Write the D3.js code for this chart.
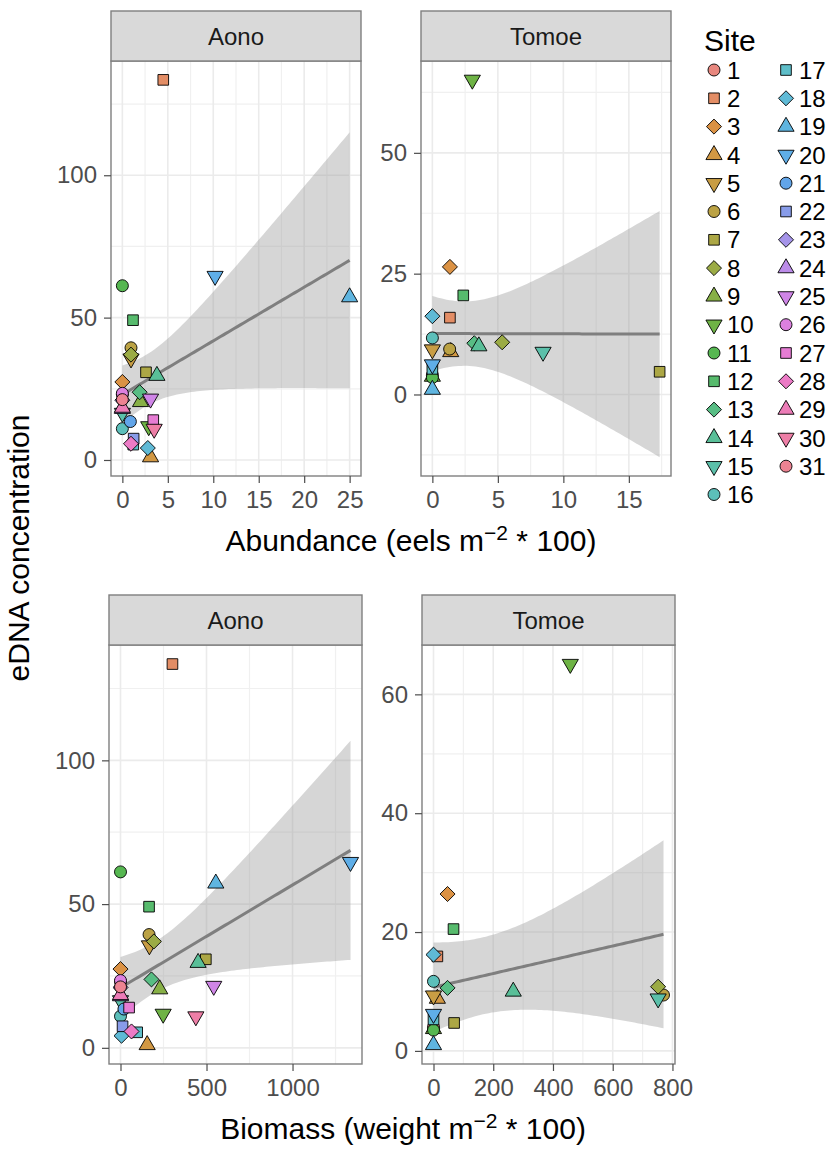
<!DOCTYPE html>
<html>
<head>
<meta charset="utf-8">
<script src="https://cdn.jsdelivr.net/npm/d3@7"></script>
<style>
body { margin: 0; background: #fff; }
svg { font-family: "Liberation Sans", Arial, Helvetica, sans-serif; }
.axis .domain { display: none; }
.axis .tick line { stroke: #4d4d4d; stroke-width: 1.2; }
.axis .tick text { fill: #4d4d4d; font-size: 24px; }
</style>
</head>
<body>
<svg id="chart" width="835" height="1153"></svg>
<script>
// ---- data (a few sites sit hidden under others) ----
const sites = [1, 2, 3, 4, 5, 6, 7, 8, 9, 10, 11, 12, 13, 14, 15, 16,
    17, 18, 19, 20, 21, 22, 23, 24, 25, 26, 27, 28, 29, 30, 31];

const aonoSite      = [1, 2, 3, 4, 5, 6, 7, 8, 9, 10, 11, 12, 13, 14, 15, 16, 17, 18, 19, 20, 21, 22, 23, 24, 25, 26, 27, 28, 29, 30, 31];
const aonoAbundance = [0, 4.5, 0, 3.1, 0.95, 0.95, 2.6, 0.95, 2.0, 2.9, 0, 1.17, 1.9, 3.8, 0, 0, 1.2, 2.8, 25, 10.2, 0.88, 1.24, 0, 0, 3.1, 0, 3.4, 0.95, 0, 3.5, 0];
const aonoBiomass   = [0, 302, 0, 155, 168, 166, 496, 194, 228, 248, 0, 166, 180, 451, 0, 0, 97, 6, 554, 1337, 20, 12, 0, 0, 542, 0, 50, 64, 0, 438, 0];
const aonoEdna      = [23.0, 133.5, 27.4, 1.0, 35.6, 39.4, 30.8, 37.0, 20.4, 11.8, 61.2, 49.1, 23.8, 29.6, 16.5, 11.0, 5.4, 4.2, 57.2, 64.6, 13.5, 7.5, 21.0, 18.0, 21.5, 23.4, 14.0, 5.7, 18.4, 10.9, 21.2];

const tomoeSite      = [1, 2, 3, 4, 5, 6, 7, 8, 9, 10, 11, 12, 13, 14, 15, 16, 17, 18, 19, 20];
const tomoeAbundance = [0, 1.34, 1.34, 1.4, 0, 1.32, 17.35, 5.33, 0, 3.05, 0, 2.36, 3.2, 3.55, 8.45, 0, 0, 0, 0, 0];
const tomoeBiomass   = [0, 13, 47, 13, 0, 770, 69, 752, 0, 458, 0, 67, 47, 267, 752, 0, 0, 0, 0, 0];
const tomoeEdna      = [4.0, 15.9, 26.4, 8.8, 9.3, 9.4, 4.7, 10.8, 3.7, 65.1, 3.5, 20.5, 10.6, 10.0, 8.8, 11.7, 5.3, 16.2, 1.0, 6.2];

// tick labels
const abundanceTicksAono = [0, 5, 10, 15, 20, 25];
const abundanceTicksTomoe = [0, 5, 10, 15];
const biomassTicksAono = [0, 500, 1000];
const biomassTicksTomoe = [0, 200, 400, 600, 800];
const ednaTicksAono = [0, 50, 100];
const ednaTicksTomoeAbundance = [0, 25, 50];
const ednaTicksTomoeBiomass = [0, 20, 40, 60];

// ---- layout ----
const PANELS = [
    {river: "Aono", xs: aonoAbundance, ys: aonoEdna, ids: aonoSite,
        left: 111, right: 361, stripTop: 11, top: 61, bottom: 476,
        xTicks: abundanceTicksAono, yTicks: ednaTicksAono},
    {river: "Tomoe", xs: tomoeAbundance, ys: tomoeEdna, ids: tomoeSite,
        left: 421, right: 671, stripTop: 11, top: 61, bottom: 476,
        xTicks: abundanceTicksTomoe, yTicks: ednaTicksTomoeAbundance},
    {river: "Aono", xs: aonoBiomass, ys: aonoEdna, ids: aonoSite,
        left: 109, right: 362, stripTop: 595, top: 645, bottom: 1064,
        xTicks: biomassTicksAono, yTicks: ednaTicksAono},
    {river: "Tomoe", xs: tomoeBiomass, ys: tomoeEdna, ids: tomoeSite,
        left: 422, right: 675, stripTop: 595, top: 645, bottom: 1064,
        xTicks: biomassTicksTomoe, yTicks: ednaTicksTomoeBiomass}
];

const BORDER = "#7f7f7f";
const PT_R = 6;

// ggplot hue palette (polar LUV, clipped to sRGB)
function hclColor(h, c, l){
    let hr = h * Math.PI / 180,
        U = c * Math.cos(hr),
        V = c * Math.sin(hr);
    let Y = l > 8 ? 100 * Math.pow((l + 16) / 116, 3) : 100 * l / 903.3;
    let u = U / (13 * l) + 0.1978398,
        v = V / (13 * l) + 0.4683363;
    let X = 9 * Y * u / (4 * v),
        Z = -X / 3 - 5 * Y + 3 * Y / v;
    X /= 100; Y /= 100; Z /= 100;
    let lin = [
        3.240479 * X - 1.537150 * Y - 0.498535 * Z,
        -0.969256 * X + 1.875992 * Y + 0.041556 * Z,
        0.055648 * X - 0.204043 * Y + 1.057311 * Z
    ];
    let rgb = lin.map(t => {
        let g = t <= 0.0031308 ? 12.92 * t : 1.055 * Math.pow(t, 1 / 2.4) - 0.055;
        return Math.round(Math.max(0, Math.min(1, g)) * 255);
    });
    return d3.rgb(rgb[0], rgb[1], rgb[2]);
}

// the reference is a bit washed out compared to the stock palette:
// drop some chroma in Lab so the lightness stays put
function muted(c){
    let h = d3.hcl(c);
    h.c *= 0.74;
    h.l += 1.5;
    return d3.rgb(h).clamp().formatHex();
}

const colour = d3.scaleOrdinal()
    .domain(sites)
    .range(sites.map((s, i) => muted(hclColor(15 + 360 * i / sites.length, 100, 65))));

// shapes 21..25 (circle, square, diamond, up, down) with R's proportions
function shapePath(site, R){
    let k = (site - 1) % 5;
    if(k === 0){
        return `M${R},0A${R},${R} 0 1,1 ${-R},0A${R},${R} 0 1,1 ${R},0Z`;
    }
    if(k === 1){
        let s = 0.8862 * R;
        return `M${-s},${-s}H${s}V${s}H${-s}Z`;
    }
    if(k === 2){
        let d = 1.2533 * R;
        return `M0,${-d}L${d},0L0,${d}L${-d},0Z`;
    }
    let r = 1.5551 * R, xc = 1.3468 * R, yc = 0.7776 * R;
    if(k === 3){
        return `M0,${-r}L${xc},${yc}L${-xc},${yc}Z`;
    }
    return `M0,${r}L${xc},${-yc}L${-xc},${-yc}Z`;
}

// 97.5% t quantile (Cornish-Fisher expansion)
function qt975(df){
    let z = 1.959964;
    let g1 = (Math.pow(z, 3) + z) / 4,
        g2 = (5 * Math.pow(z, 5) + 16 * Math.pow(z, 3) + 3 * z) / 96,
        g3 = (3 * Math.pow(z, 7) + 19 * Math.pow(z, 5) + 17 * Math.pow(z, 3) - 15 * z) / 384,
        g4 = (79 * Math.pow(z, 9) + 776 * Math.pow(z, 7) + 1482 * Math.pow(z, 5)
            - 1920 * Math.pow(z, 3) - 945 * z) / 92160;
    return z + g1 / df + g2 / df ** 2 + g3 / df ** 3 + g4 / df ** 4;
}

// lm fit with 95% confidence band, like geom_smooth(method = "lm")
function lmBand(xs, ys){
    let n = xs.length,
        mx = d3.mean(xs),
        my = d3.mean(ys),
        sxx = d3.sum(xs, x => (x - mx) ** 2),
        sxy = d3.sum(xs, (x, i) => (x - mx) * (ys[i] - my));
    let b = sxy / sxx, a = my - b * mx;
    let sse = d3.sum(xs, (x, i) => (ys[i] - a - b * x) ** 2);
    let s = Math.sqrt(sse / (n - 2)), t = qt975(n - 2);
    let [lo, hi] = d3.extent(xs);
    return d3.range(80).map(i => {
        let x = lo + (hi - lo) * i / 79,
            f = a + b * x,
            se = s * Math.sqrt(1 / n + (x - mx) ** 2 / sxx);
        return {x: x, fit: f, lo: f - t * se, hi: f + t * se};
    });
}

function expand(ext){
    let pad = (ext[1] - ext[0]) * 0.05;
    return [ext[0] - pad, ext[1] + pad];
}

function minorBreaks(ticks, domain){
    let step = ticks[1] - ticks[0],
        vals = [ticks[0] - step / 2].concat(ticks.map(t => t + step / 2));
    return vals.filter(v => v >= domain[0] && v <= domain[1]);
}

const svg = d3.select("#chart");

svg.append("rect").attr("width", 835).attr("height", 1153).attr("fill", "#fff");

PANELS.forEach((p, pi) => {
    let band = lmBand(p.xs, p.ys);
    let xDomain = expand(d3.extent(p.xs));
    let yDomain = expand([
        Math.min(d3.min(p.ys), d3.min(band, d => d.lo)),
        Math.max(d3.max(p.ys), d3.max(band, d => d.hi))
    ]);

    let x = d3.scaleLinear().domain(xDomain).range([p.left, p.right]);
    let y = d3.scaleLinear().domain(yDomain).range([p.bottom, p.top]);

    let g = svg.append("g").attr("class", "panel");

    // background grid
    let grid = g.append("g").attr("class", "grid");
    grid.selectAll("line.minor-x")
        .data(minorBreaks(p.xTicks, xDomain))
        .enter().append("line")
            .attr("x1", d => x(d)).attr("x2", d => x(d))
            .attr("y1", p.top).attr("y2", p.bottom)
            .attr("stroke", "#f0f0f0").attr("stroke-width", 1.2);
    grid.selectAll("line.minor-y")
        .data(minorBreaks(p.yTicks, yDomain))
        .enter().append("line")
            .attr("y1", d => y(d)).attr("y2", d => y(d))
            .attr("x1", p.left).attr("x2", p.right)
            .attr("stroke", "#f0f0f0").attr("stroke-width", 1.2);
    grid.selectAll("line.major-x")
        .data(p.xTicks)
        .enter().append("line")
            .attr("x1", d => x(d)).attr("x2", d => x(d))
            .attr("y1", p.top).attr("y2", p.bottom)
            .attr("stroke", "#ebebeb").attr("stroke-width", 1.6);
    grid.selectAll("line.major-y")
        .data(p.yTicks)
        .enter().append("line")
            .attr("y1", d => y(d)).attr("y2", d => y(d))
            .attr("x1", p.left).attr("x2", p.right)
            .attr("stroke", "#ebebeb").attr("stroke-width", 1.6);

    // smoother
    let clipId = "clip" + pi;
    svg.append("defs").append("clipPath").attr("id", clipId)
        .append("rect")
            .attr("x", p.left).attr("y", p.top)
            .attr("width", p.right - p.left).attr("height", p.bottom - p.top);

    let smooth = g.append("g").attr("clip-path", `url(#${clipId})`);
    smooth.append("path")
        .datum(band)
        .attr("fill", "#999999")
        .attr("fill-opacity", 0.4)
        .attr("d", d3.area().x(d => x(d.x)).y0(d => y(d.lo)).y1(d => y(d.hi)));
    smooth.append("path")
        .datum(band)
        .attr("fill", "none")
        .attr("stroke", "#7f7f7f")
        .attr("stroke-width", 3)
        .attr("d", d3.line().x(d => x(d.x)).y(d => y(d.fit)));

    // points
    g.append("g").selectAll("path.pt")
        .data(p.ids.map((s, i) => ({site: s, x: p.xs[i], y: p.ys[i]})))
        .enter().append("path")
            .attr("class", "pt")
            .attr("transform", d => `translate(${x(d.x)},${y(d.y)})`)
            .attr("d", d => shapePath(d.site, PT_R))
            .attr("fill", d => colour(d.site))
            .attr("stroke", "#000")
            .attr("stroke-width", 0.9);

    // panel border
    g.append("rect")
        .attr("x", p.left).attr("y", p.top)
        .attr("width", p.right - p.left).attr("height", p.bottom - p.top)
        .attr("fill", "none").attr("stroke", BORDER).attr("stroke-width", 1.4);

    // strip
    g.append("rect")
        .attr("x", p.left).attr("y", p.stripTop)
        .attr("width", p.right - p.left).attr("height", p.top - p.stripTop)
        .attr("fill", "#d9d9d9").attr("stroke", BORDER).attr("stroke-width", 1.4);
    g.append("text")
        .attr("x", (p.left + p.right) / 2)
        .attr("y", (p.stripTop + p.top) / 2 + 8.6)
        .attr("text-anchor", "middle")
        .attr("font-size", 24)
        .attr("fill", "#1a1a1a")
        .text(p.river);

    // axes
    g.append("g")
        .attr("class", "axis axis-x")
        .attr("transform", `translate(0,${p.bottom})`)
        .call(d3.axisBottom(x).tickValues(p.xTicks).tickSize(7).tickPadding(8).tickFormat(d3.format("d")));
    g.append("g")
        .attr("class", "axis axis-y")
        .attr("transform", `translate(${p.left},0)`)
        .call(d3.axisLeft(y).tickValues(p.yTicks).tickSize(7).tickPadding(7).tickFormat(d3.format("d")));
});

// axis titles
function axisTitle(x, yPos, label){
    let t = svg.append("text")
        .attr("x", x).attr("y", yPos)
        .attr("text-anchor", "middle")
        .attr("font-size", 30)
        .attr("fill", "#000");
    t.append("tspan").text(label + " m");
    t.append("tspan").attr("dy", -11).attr("font-size", 21).text("\u22122");
    t.append("tspan").attr("dy", 11).text(" * 100)");
}
axisTitle(411, 551, "Abundance (eels");
axisTitle(403, 1139, "Biomass (weight");

svg.append("text")
    .attr("transform", "translate(29,548) rotate(-90)")
    .attr("text-anchor", "middle")
    .attr("font-size", 30)
    .attr("fill", "#000")
    .text("eDNA concentration");

// legend
let legend = svg.append("g").attr("class", "legend");
legend.append("text")
    .attr("x", 704).attr("y", 51)
    .attr("font-size", 30)
    .attr("fill", "#000")
    .text("Site");

let item = legend.selectAll("g.item")
    .data(sites)
    .enter().append("g")
        .attr("class", "item")
        .attr("transform", (d, i) => {
            let col = i < 16 ? 0 : 1, row = i < 16 ? i : i - 16;
            return `translate(${714 + col * 72},${70 + row * 28.3})`;
        });
item.append("path")
    .attr("d", d => shapePath(d, PT_R))
    .attr("fill", d => colour(d))
    .attr("stroke", "#000")
    .attr("stroke-width", 0.9);
item.append("text")
    .attr("x", 13)
    .attr("y", 8.6)
    .attr("font-size", 24)
    .attr("fill", "#000")
    .text(d => d);
</script>
</body>
</html>
